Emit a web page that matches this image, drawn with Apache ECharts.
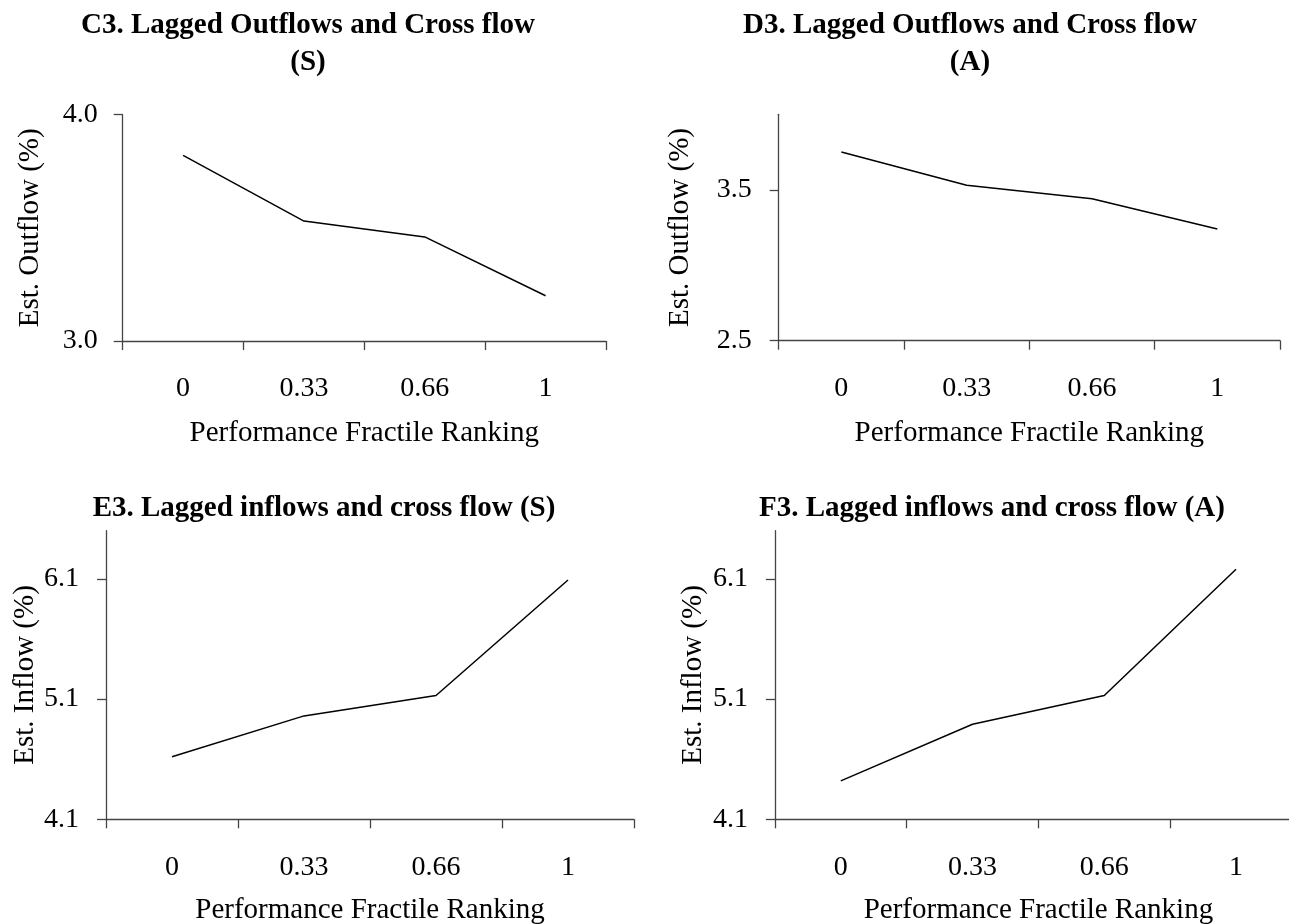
<!DOCTYPE html>
<html>
<head>
<meta charset="utf-8">
<script src="https://cdn.jsdelivr.net/npm/echarts@6/dist/echarts.min.js"></script>
<style>
html,body{margin:0;padding:0;background:#fff;}
#chart{width:1289px;height:924px;}
</style>
</head>
<body>
<div id="chart"></div>
<script>
// ---- data ----
const categories = ['0', '0.33', '0.66', '1'];
const c3Outflow = [3.82, 3.53, 3.46, 3.20];
const d3Outflow = [3.75, 3.53, 3.44, 3.24];
const e3Inflow = [4.62, 4.96, 5.13, 6.09];
const f3Inflow = [4.42, 4.89, 5.13, 6.18];
const titles = [
  'C3. Lagged Outflows and Cross flow\n(S)',
  'D3. Lagged Outflows and Cross flow\n(A)',
  'E3. Lagged inflows and cross flow (S)',
  'F3. Lagged inflows and cross flow (A)'
];
const yNames = ['Est. Outflow (%)', 'Est. Outflow (%)', 'Est. Inflow (%)', 'Est. Inflow (%)'];
const xName = 'Performance Fractile Ranking';
const yTicks = [[3.0, 4.0], [2.5, 3.5], [4.1, 5.1, 6.1], [4.1, 5.1, 6.1]];
const yRange = [[3.0, 4.0], [2.5, 4.0], [4.1, 6.5], [4.1, 6.5]];

// ---- layout ----
const FONT = '"Liberation Serif", "Times New Roman", serif';
const grids = [
  {left: 122.7, top: 114.7, width: 483.3, height: 226.3},
  {left: 778.7, top: 114.3, width: 501.3, height: 226.4},
  {left: 106, top: 530.7, width: 528, height: 288.6},
  {left: 774.9, top: 530.7, width: 527, height: 288.6}
];
const titlePos = [
  {left: 308, top: 7},
  {left: 970, top: 7},
  {left: 324, top: 490},
  {left: 992, top: 490}
];
const yLabelMargin = [25, 27, 27, 27];
const yNameGap = [78, 84, 66, 67];
const xNameGap = [78, 78, 77, 77];
const seriesData = [c3Outflow, d3Outflow, e3Inflow, f3Inflow];
const axisColor = '#444';

const option = {
  animation: false,
  backgroundColor: '#fff',
  textStyle: {fontFamily: FONT},
  title: titles.map((t, i) => ({
    text: t,
    left: titlePos[i].left,
    top: titlePos[i].top,
    padding: 0,
    textAlign: 'center',
    textStyle: {fontFamily: FONT, fontSize: 29, fontWeight: 'bold', color: '#000', lineHeight: 37}
  })),
  grid: grids.map(g => Object.assign({containLabel: false, outerBoundsMode: 'none'}, g)),
  xAxis: grids.map((g, i) => ({
    type: 'category',
    gridIndex: i,
    data: categories,
    boundaryGap: true,
    name: xName,
    nameLocation: 'middle',
    nameGap: xNameGap[i],
    nameTextStyle: {fontFamily: FONT, fontSize: 29, color: '#000'},
    axisLine: {show: true, lineStyle: {color: axisColor, width: 1.3}},
    axisTick: {show: true, alignWithLabel: false, length: 9, inside: false, lineStyle: {color: axisColor, width: 1.3}},
    axisLabel: {show: true, margin: 34, fontFamily: FONT, fontSize: 28, color: '#000', interval: 0},
    splitLine: {show: false}
  })),
  yAxis: grids.map((g, i) => ({
    type: 'value',
    gridIndex: i,
    min: yRange[i][0],
    max: yRange[i][1],
    name: yNames[i],
    nameLocation: 'middle',
    nameGap: yNameGap[i],
    nameRotate: 90,
    nameTextStyle: {fontFamily: FONT, fontSize: 29, color: '#000'},
    axisLine: {show: true, lineStyle: {color: axisColor, width: 1.3}},
    axisTick: {show: true, length: 9, inside: false, customValues: yTicks[i], lineStyle: {color: axisColor, width: 1.3}},
    axisLabel: {
      show: true, margin: yLabelMargin[i], fontFamily: FONT, fontSize: 28, color: '#000',
      customValues: yTicks[i],
      formatter: v => Number(v).toFixed(1)
    },
    splitLine: {show: false}
  })),
  series: seriesData.map((d, i) => ({
    type: 'line',
    xAxisIndex: i,
    yAxisIndex: i,
    data: d,
    symbol: 'none',
    lineStyle: {color: '#000', width: 1.5},
    silent: true
  }))
};

const chart = echarts.init(document.getElementById('chart'), null, {renderer: 'canvas'});
chart.setOption(option);
</script>
</body>
</html>
